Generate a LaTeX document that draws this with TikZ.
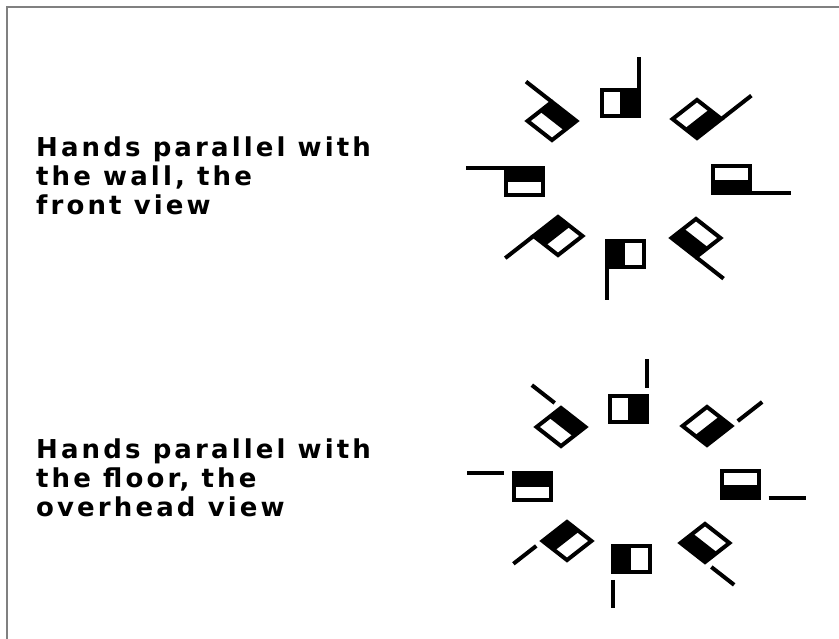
\documentclass[tikz,border=0pt]{standalone}
\usepackage{fontspec}
\setmainfont{DejaVu Sans}
\newfontfamily\notefont[LetterSpace=12]{DejaVu Sans}
\usepackage{tikz}
\usetikzlibrary{positioning}

% one hand flag: centre, side angle, pole angle, width, height, gap, pole length
\newcommand{\handflag}[7]{%
  \begin{scope}[shift={(#1)}, x={(#2:1pt)}, y={(#3:1pt)}]
    \fill (0,-#5/2) -- (#4/2,-#5/2) -- (#4/2,#5/2) -- (0,#5/2) -- cycle;
    \draw[line width=4pt] (-#4/2,-#5/2) -- (#4/2,-#5/2) -- (#4/2,#5/2)
      -- (-#4/2,#5/2) -- cycle;
    \draw[line width=4pt] (#4/2,#5/2+#6) -- (#4/2,#5/2+#6+#7);
  \end{scope}}

\tikzset{
  note/.style={font=\notefont\bfseries\fontsize{26}{29}\selectfont,
    align=left, inner sep=0pt, anchor=north west},
  frame/.style={draw=gray, line width=1.5pt}
}

\begin{document}
\begin{tikzpicture}[x=1pt, y=1pt]
  \useasboundingbox (0,0) rectangle (839,639);
  \draw[frame] (7,0) -- (7,632) -- (839,632);

  % front view
  \coordinate (wallT)  at (620, 536);
  \coordinate (wallTR) at (697, 520);
  \coordinate (wallR)  at (731, 459);
  \coordinate (wallBR) at (696, 401);
  \coordinate (wallB)  at (625, 385);
  \coordinate (wallBL) at (558, 403);
  \coordinate (wallL)  at (524, 457);
  \coordinate (wallTL) at (552, 518);

  \handflag{wallT}{0}{90}{37}{26}{0}{33}
  \handflag{wallTR}{-38}{38}{31}{31}{0}{38}
  \handflag{wallR}{-90}{0}{27}{37}{0}{41}
  \handflag{wallBR}{218}{-38}{31}{31}{0}{35}
  \handflag{wallB}{180}{-90}{37}{26}{0}{33}
  \handflag{wallBL}{142}{218}{31}{31}{0}{36}
  \handflag{wallL}{90}{180}{27}{37}{0}{40}
  \handflag{wallTL}{38}{142}{31}{31}{0}{33}

  % overhead view
  \coordinate (floorT)  at (628, 230);
  \coordinate (floorTR) at (707, 213);
  \coordinate (floorR)  at (740, 154);
  \coordinate (floorBR) at (705, 96);
  \coordinate (floorB)  at (631, 80);
  \coordinate (floorBL) at (567, 98);
  \coordinate (floorL)  at (532, 152);
  \coordinate (floorTL) at (561, 212);

  \handflag{floorT}{0}{90}{37}{26}{8}{29}
  \handflag{floorTR}{-38}{38}{31}{31}{8}{31}
  \handflag{floorR}{-90}{0}{27}{37}{10}{37}
  \handflag{floorBR}{218}{-38}{31}{31}{8}{29}
  \handflag{floorB}{180}{-90}{37}{26}{8}{28}
  \handflag{floorBL}{142}{218}{31}{31}{8}{29}
  \handflag{floorL}{90}{180}{27}{37}{10}{37}
  \handflag{floorTL}{38}{142}{31}{31}{8}{29}

  \node[note] (wallnote) at (36, 502)
    {Hands parallel with\\the wall, the\\front view};
  \node[note] (floornote) at (36, 200)
    {Hands parallel with\\the floor, the\\overhead view};
\end{tikzpicture}
\end{document}
